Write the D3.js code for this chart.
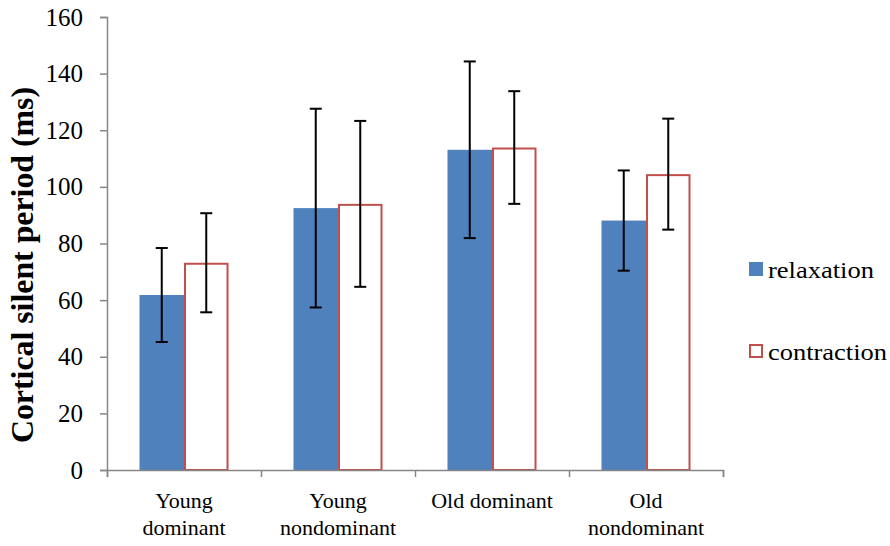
<!DOCTYPE html>
<html>
<head>
<meta charset="utf-8">
<script src="https://cdn.jsdelivr.net/npm/d3@7"></script>
<style>
  body { margin: 0; background: #fff; }
  svg text { font-family: "Liberation Serif", "Times New Roman", "DejaVu Serif", serif !important; fill: #000; }
</style>
</head>
<body>
<div id="container"></div>
<script>
// data
const categories = [["Young", "dominant"], ["Young", "nondominant"], ["Old dominant"], ["Old", "nondominant"]];
const seriesNames = ["relaxation", "contraction"];
const relaxation = [61.8, 92.5, 113.1, 88.1];
const relaxationErr = [16.6, 35.1, 31.2, 17.7];
const contraction = [73.2, 94.0, 113.9, 104.5];
const contractionErr = [17.5, 29.3, 19.9, 19.6];
const yTicks = [0, 20, 40, 60, 80, 100, 120, 140, 160];

const width = 890, height = 546;
const margin = { left: 107, right: 167, top: 17, bottom: 76 };
const plotW = width - margin.left - margin.right;
const plotH = height - margin.top - margin.bottom;
const serif = '"Liberation Serif", "Times New Roman", serif';

const svg = d3.select("#container").append("svg")
    .attr("width", width)
    .attr("height", height)
    .attr("font-family", serif);

const g = svg.append("g")
    .attr("transform", `translate(${margin.left}, ${margin.top})`);

const x = d3.scaleBand()
    .domain(d3.range(categories.length))
    .range([0, plotW]);

const xSeries = d3.scaleBand()
    .domain(seriesNames)
    .range([0, x.bandwidth()])
    .paddingInner(0)
    .paddingOuter(0.73);

const y = d3.scaleLinear()
    .domain([0, 160])
    .range([plotH, 0]);

const colors = { relaxation: "#4F81BD", contraction: "#C0504D" };

const rows = categories.map((c, i) => ({
    i,
    vals: [
        { name: "relaxation", v: relaxation[i], e: relaxationErr[i] },
        { name: "contraction", v: contraction[i], e: contractionErr[i] }
    ]
}));

// bars
const groups = g.selectAll(".cat")
    .data(rows)
    .enter().append("g")
    .attr("transform", d => `translate(${x(d.i)}, 0)`);

groups.selectAll("rect")
    .data(d => d.vals)
    .enter().append("rect")
    .attr("x", d => xSeries(d.name) + (d.name === "contraction" ? 1 : 0))
    .attr("y", d => y(d.v) + (d.name === "contraction" ? 1 : 0))
    .attr("width", d => xSeries.bandwidth() - (d.name === "contraction" ? 2 : 0))
    .attr("height", d => plotH - y(d.v) - (d.name === "contraction" ? 1 : 0))
    .attr("fill", d => d.name === "relaxation" ? colors.relaxation : "#fff")
    .attr("stroke", d => d.name === "contraction" ? colors.contraction : "none")
    .attr("stroke-width", 2);

// axes
const yAxis = d3.axisLeft(y)
    .tickValues(yTicks)
    .tickSizeInner(7)
    .tickSizeOuter(7)
    .tickPadding(17);

const yG = g.append("g").call(yAxis);
yG.attr("font-family", serif).attr("font-size", 25);

const xAxis = d3.axisBottom(d3.scaleLinear().domain([0, categories.length]).range([0, plotW]))
    .tickValues(d3.range(categories.length + 1))
    .tickSize(7)
    .tickFormat("");

g.append("g")
    .attr("transform", `translate(0, ${plotH})`)
    .call(xAxis);

g.selectAll(".domain, .tick line")
    .attr("stroke", "#868686")
    .attr("stroke-width", 1.5);

// error bars
const err = groups.selectAll(".err")
    .data(d => d.vals)
    .enter().append("g")
    .attr("class", "err")
    .attr("stroke", "#000")
    .attr("stroke-width", 2);

const cx = d => xSeries(d.name) + xSeries.bandwidth() / 2;
err.append("line")
    .attr("x1", cx).attr("x2", cx)
    .attr("y1", d => y(d.v + d.e)).attr("y2", d => y(d.v - d.e));
err.append("line")
    .attr("x1", d => cx(d) - 6).attr("x2", d => cx(d) + 6)
    .attr("y1", d => y(d.v + d.e)).attr("y2", d => y(d.v + d.e));
err.append("line")
    .attr("x1", d => cx(d) - 6).attr("x2", d => cx(d) + 6)
    .attr("y1", d => y(d.v - d.e)).attr("y2", d => y(d.v - d.e));

// category labels
const labels = g.selectAll(".xlab")
    .data(rows)
    .enter().append("text")
    .attr("text-anchor", "middle")
    .attr("x", d => x(d.i) + x.bandwidth() / 2)
    .attr("y", plotH + 38)
    .attr("font-size", 22);

labels.selectAll("tspan")
    .data(d => categories[d.i])
    .enter().append("tspan")
    .attr("x", function () { return d3.select(this.parentNode).attr("x"); })
    .attr("dy", (d, k) => k === 0 ? 0 : 27)
    .text(d => d);

// y title
svg.append("text")
    .attr("transform", "translate(33, 265) rotate(-90)")
    .attr("text-anchor", "middle")
    .attr("font-size", 31)
    .attr("font-weight", "bold")
    .attr("textLength", 356)
    .attr("lengthAdjust", "spacingAndGlyphs")
    .text("Cortical silent period (ms)");

// legend
const legend = svg.append("g")
    .attr("transform", "translate(749, 0)");

const legendY = [262, 344];
const legendLen = [106, 119];
seriesNames.forEach((name, k) => {
    legend.append("rect")
        .attr("x", name === "relaxation" ? 0 : 1)
        .attr("y", legendY[k] + (name === "relaxation" ? 0 : 1))
        .attr("width", name === "relaxation" ? 14 : 12)
        .attr("height", name === "relaxation" ? 14 : 12)
        .attr("fill", name === "relaxation" ? colors.relaxation : "#fff")
        .attr("stroke", name === "contraction" ? colors.contraction : "none")
        .attr("stroke-width", 2);
    legend.append("text")
        .attr("x", 19)
        .attr("y", legendY[k] + 15.5)
        .attr("font-size", 24)
        .attr("textLength", legendLen[k])
        .attr("lengthAdjust", "spacingAndGlyphs")
        .text(name);
});
</script>
</body>
</html>
